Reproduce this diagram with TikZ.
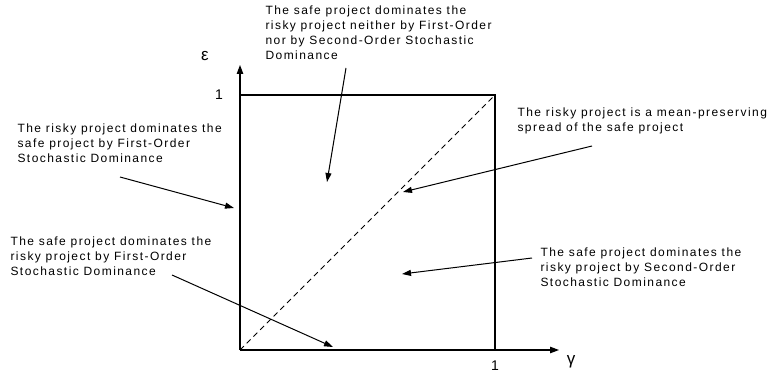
\documentclass[tikz,border=0pt]{standalone}
\usepackage{fontspec}
\setmainfont{Liberation Sans}[LetterSpace=12]
\newfontfamily\greekfont{Liberation Sans}
\usetikzlibrary{arrows.meta}
\begin{document}
\begin{tikzpicture}[x=1pt,y=-1pt,line width=1.1pt,
  lbl/.style={anchor=north west,align=left,inner sep=0pt,font=\fontsize{12}{15}\selectfont},
  num/.style={inner sep=0pt,font=\greekfont\fontsize{14}{16}\selectfont},
  sym/.style={inner sep=0pt,font=\greekfont\fontsize{17}{19}\selectfont},
  arr/.style={line width=1pt,-{Triangle[length=9pt,width=6pt]}},
  axis/.style={line width=1.1pt,-{Triangle[length=9pt,width=6.5pt]}}]
\useasboundingbox (0,0) rectangle (768,374);
% axes and square
\coordinate (o) at (240,350);
\coordinate (ytop) at (240,65);
\coordinate (xend) at (559,350);
\coordinate (c11) at (495,95);
\coordinate (c01) at (240,95);
\coordinate (c10) at (495,350);
\draw[axis] (o) -- (ytop);
\draw[axis] (o) -- (xend);
\draw (c01) -- (c11) -- (c10);
\draw[dashed,line width=0.9pt,dash pattern=on 5.5pt off 4pt] (o) -- (c11);
\node[sym] (eps) at (205,56) {ε};
\node[sym] (gam) at (571,362) {γ};
\node[num] (oneY) at (219,95) {1};
\node[num] (oneX) at (495,366) {1};
% texts
\node[lbl] (tTop) at (265,5) {The safe project dominates the\\risky project neither by First-Order\\nor by Second-Order Stochastic\\Dominance};
\node[lbl] (tLT) at (17,123) {The risky project dominates the\\safe project by First-Order\\Stochastic Dominance};
\node[lbl] (tRT) at (517,107) {The risky project is a mean-preserving\\spread of the safe project};
\node[lbl] (tLB) at (10,236) {The safe project dominates the\\risky project by First-Order\\Stochastic Dominance};
\node[lbl] (tRB) at (540,247) {The safe project dominates the\\risky project by Second-Order\\Stochastic Dominance};
% arrows
\coordinate (a1s) at (346,68);  \coordinate (a1e) at (327,182);
\coordinate (a2s) at (120,177); \coordinate (a2e) at (234,208);
\coordinate (a3s) at (592,146); \coordinate (a3e) at (403,192);
\coordinate (a4s) at (172,275); \coordinate (a4e) at (333,347);
\coordinate (a5s) at (532,258); \coordinate (a5e) at (402,274);
\draw[arr] (a1s) -- (a1e);
\draw[arr] (a2s) -- (a2e);
\draw[arr] (a3s) -- (a3e);
\draw[arr] (a4s) -- (a4e);
\draw[arr] (a5s) -- (a5e);
\end{tikzpicture}
\end{document}
